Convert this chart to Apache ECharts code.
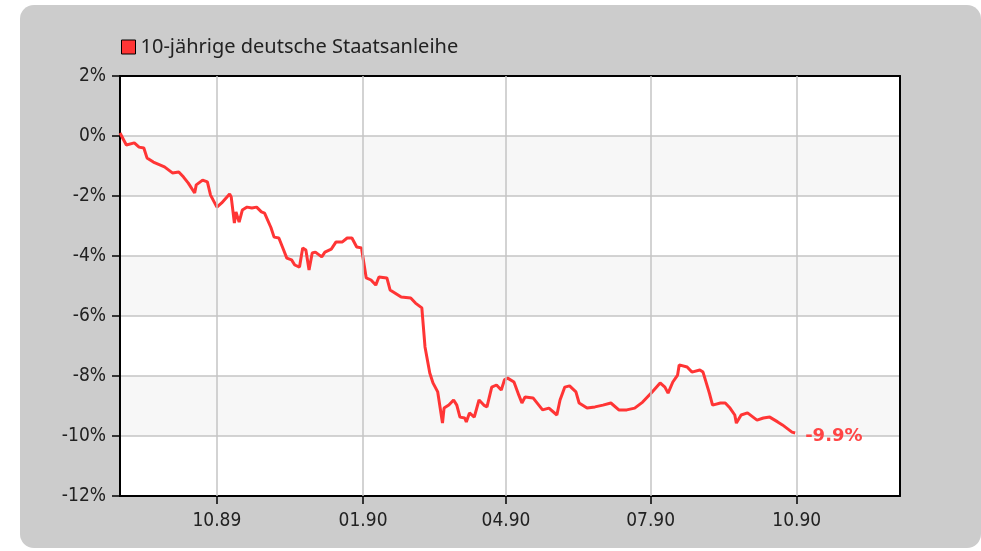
<!DOCTYPE html>
<html>
<head>
<meta charset="utf-8">
<script src="https://cdn.jsdelivr.net/npm/echarts@6/dist/echarts.min.js"></script>
<style>
  html, body { margin: 0; padding: 0; background: #fff; }
  .wrap { position: relative; width: 981px; height: 551px; overflow: hidden; }
  .panel { position: absolute; left: 20px; top: 5px; width: 961px; height: 543px; background: #cccccc; border-radius: 14px; }
  #chart { position: absolute; left: 0; top: 0; width: 981px; height: 551px; }
</style>
</head>
<body>
<div class="wrap">
  <div class="panel"></div>
  <div id="chart"></div>
</div>
<script>
const SERIES_NAME = '10-jährige deutsche Staatsanleihe'
const RED = '#ff3535'

// dates of the plotted points
const dates = [
  '1989-08-01', '1989-08-05', '1989-08-10', '1989-08-13', '1989-08-16', '1989-08-18', '1989-08-22', '1989-08-29',
  '1989-09-03', '1989-09-07', '1989-09-10', '1989-09-13', '1989-09-17', '1989-09-18', '1989-09-22', '1989-09-25',
  '1989-09-27', '1989-10-01', '1989-10-04', '1989-10-09', '1989-10-10', '1989-10-12', '1989-10-13', '1989-10-15',
  '1989-10-17', '1989-10-20', '1989-10-23', '1989-10-26', '1989-10-29', '1989-10-31', '1989-11-04', '1989-11-06',
  '1989-11-09', '1989-11-12', '1989-11-14', '1989-11-17', '1989-11-19', '1989-11-22', '1989-11-24', '1989-11-26',
  '1989-11-28', '1989-11-30', '1989-12-02', '1989-12-06', '1989-12-08', '1989-12-12', '1989-12-15', '1989-12-19',
  '1989-12-22', '1989-12-25', '1989-12-28', '1989-12-31', '1990-01-03', '1990-01-06', '1990-01-09', '1990-01-11',
  '1990-01-16', '1990-01-18', '1990-01-21', '1990-01-25', '1990-01-31', '1990-02-03', '1990-02-07', '1990-02-09',
  '1990-02-12', '1990-02-14', '1990-02-17', '1990-02-20', '1990-02-21', '1990-02-24', '1990-02-27', '1990-03-01',
  '1990-03-03', '1990-03-06', '1990-03-07', '1990-03-09', '1990-03-12', '1990-03-15', '1990-03-18', '1990-03-20',
  '1990-03-23', '1990-03-26', '1990-03-29', '1990-03-31', '1990-04-02', '1990-04-06', '1990-04-09', '1990-04-11',
  '1990-04-13', '1990-04-18', '1990-04-24', '1990-04-28', '1990-05-03', '1990-05-05', '1990-05-08', '1990-05-11',
  '1990-05-15', '1990-05-17', '1990-05-22', '1990-05-27', '1990-06-01', '1990-06-06', '1990-06-11', '1990-06-16',
  '1990-06-21', '1990-06-26', '1990-07-02', '1990-07-07', '1990-07-10', '1990-07-12', '1990-07-15', '1990-07-18',
  '1990-07-19', '1990-07-24', '1990-07-27', '1990-08-01', '1990-08-03', '1990-08-07', '1990-08-09', '1990-08-14',
  '1990-08-17', '1990-08-20', '1990-08-23', '1990-08-24', '1990-08-27', '1990-08-31', '1990-09-06', '1990-09-10',
  '1990-09-14', '1990-09-19', '1990-09-22', '1990-09-28', '1990-09-30'
]

// change in percent
const values = [
  0.10, -0.30, -0.23, -0.37, -0.40, -0.73, -0.87, -1.03,
  -1.23, -1.20, -1.37, -1.57, -1.90, -1.63, -1.47, -1.53,
  -1.97, -2.37, -2.23, -1.93, -2.03, -2.90, -2.53, -2.87,
  -2.47, -2.37, -2.40, -2.37, -2.53, -2.57, -3.05, -3.37,
  -3.40, -3.80, -4.07, -4.13, -4.30, -4.37, -3.73, -3.80,
  -4.47, -3.90, -3.87, -4.03, -3.87, -3.77, -3.53, -3.53,
  -3.40, -3.40, -3.70, -3.73, -4.73, -4.80, -4.97, -4.70,
  -4.73, -5.13, -5.23, -5.37, -5.40, -5.57, -5.73, -7.03,
  -7.90, -8.23, -8.53, -9.57, -9.07, -8.97, -8.80, -8.97,
  -9.37, -9.40, -9.53, -9.23, -9.37, -8.80, -8.97, -9.03,
  -8.37, -8.30, -8.47, -8.13, -8.07, -8.20, -8.63, -8.90,
  -8.70, -8.73, -9.13, -9.07, -9.30, -8.80, -8.37, -8.33,
  -8.53, -8.90, -9.07, -9.03, -8.97, -8.90, -9.13, -9.13,
  -9.07, -8.87, -8.53, -8.23, -8.37, -8.57, -8.20, -7.97,
  -7.63, -7.70, -7.87, -7.80, -7.87, -8.57, -8.97, -8.90,
  -8.90, -9.07, -9.30, -9.57, -9.30, -9.23, -9.47, -9.40,
  -9.37, -9.53, -9.63, -9.87, -9.90
]

const xTicks = ['1989-10-01', '1990-01-01', '1990-04-01', '1990-07-01', '1990-10-01']
const X_MIN = '1989-08-01'
const X_MAX = '1990-12-05'
const END_LABEL = '-9.9%'

function toTime(s) {
  const [y, m, d] = s.split('-').map(Number)
  return new Date(y, m - 1, d).getTime()
}

function fmtMonth(v) {
  const d = new Date(v)
  const mm = String(d.getMonth() + 1).padStart(2, '0')
  const yy = String(d.getFullYear()).slice(2)
  return mm + '.' + yy
}

const tickValues = xTicks.map(toTime)
const GRID_LINE = { color: '#c4c4c4', width: 1.5 }
const FRAME = { color: '#000', width: 2 }
const AXIS_FONT = { color: '#222', fontSize: 19, fontFamily: '"Liberation Sans Narrow", "DejaVu Sans Condensed", sans-serif' }

const chart = echarts.init(document.getElementById('chart'), null, { renderer: 'canvas' })
chart.setOption({
  animation: false,
  backgroundColor: 'transparent',
  legend: {
    left: 116,
    top: 32,
    itemWidth: 14,
    itemHeight: 14,
    itemGap: 8,
    icon: 'rect',
    textStyle: { color: '#222', fontSize: 20, fontFamily: '"Noto Sans", sans-serif' },
    data: [{ name: SERIES_NAME, itemStyle: { color: RED, borderColor: '#000', borderWidth: 1 } }],
  },
  grid: { left: 120, top: 76, width: 780, height: 420, show: false },
  xAxis: [
    {
      type: 'value',
      min: toTime(X_MIN),
      max: toTime(X_MAX),
      axisLine: { onZero: false, lineStyle: FRAME },
      axisTick: { show: true, customValues: tickValues, length: 8, lineStyle: { color: '#000', width: 1.5 } },
      axisLabel: { customValues: tickValues, formatter: (v) => fmtMonth(v), margin: 16, ...AXIS_FONT },
      splitLine: { show: false },
    },
    {
      // top frame edge
      type: 'value',
      position: 'top',
      min: toTime(X_MIN),
      max: toTime(X_MAX),
      axisLine: { onZero: false, lineStyle: FRAME },
      axisTick: { show: false },
      axisLabel: { show: false },
      splitLine: { show: false },
    },
  ],
  yAxis: [
    {
      type: 'value',
      min: -12,
      max: 2,
      interval: 2,
      axisLine: { show: true, onZero: false, lineStyle: FRAME },
      axisTick: { show: true, length: 8, lineStyle: { color: '#000', width: 1.5 } },
      axisLabel: { formatter: '{value}%', margin: 14, ...AXIS_FONT },
      splitLine: { show: true, lineStyle: GRID_LINE },
      splitArea: { show: true, areaStyle: { color: ['#ffffff', '#f7f7f7'] } },
    },
    {
      // right frame edge
      type: 'value',
      position: 'right',
      min: -12,
      max: 2,
      interval: 2,
      axisLine: { show: true, onZero: false, lineStyle: FRAME },
      axisTick: { show: false },
      axisLabel: { show: false },
      splitLine: { show: false },
    },
  ],
  series: [
    {
      // vertical grid lines at the labelled months
      type: 'line',
      data: [],
      silent: true,
      z: 1,
      markLine: {
        silent: true,
        symbol: 'none',
        label: { show: false },
        lineStyle: { color: GRID_LINE.color, width: GRID_LINE.width, type: 'solid' },
        data: tickValues.map((t) => ({ xAxis: t })),
      },
    },
    {
      name: SERIES_NAME,
      type: 'line',
      z: 3,
      data: dates.map((d, i) => [toTime(d), values[i]]),
      showSymbol: false,
      lineStyle: { color: RED, width: 3 },
      itemStyle: { color: RED },
      endLabel: {
        show: true,
        formatter: END_LABEL,
        distance: 10,
        offset: [0, 3],
        color: '#ff4545',
        fontSize: 18,
        fontWeight: 'bold',
        fontFamily: '"DejaVu Sans", sans-serif',
      },
    },
  ],
})
</script>
</body>
</html>
